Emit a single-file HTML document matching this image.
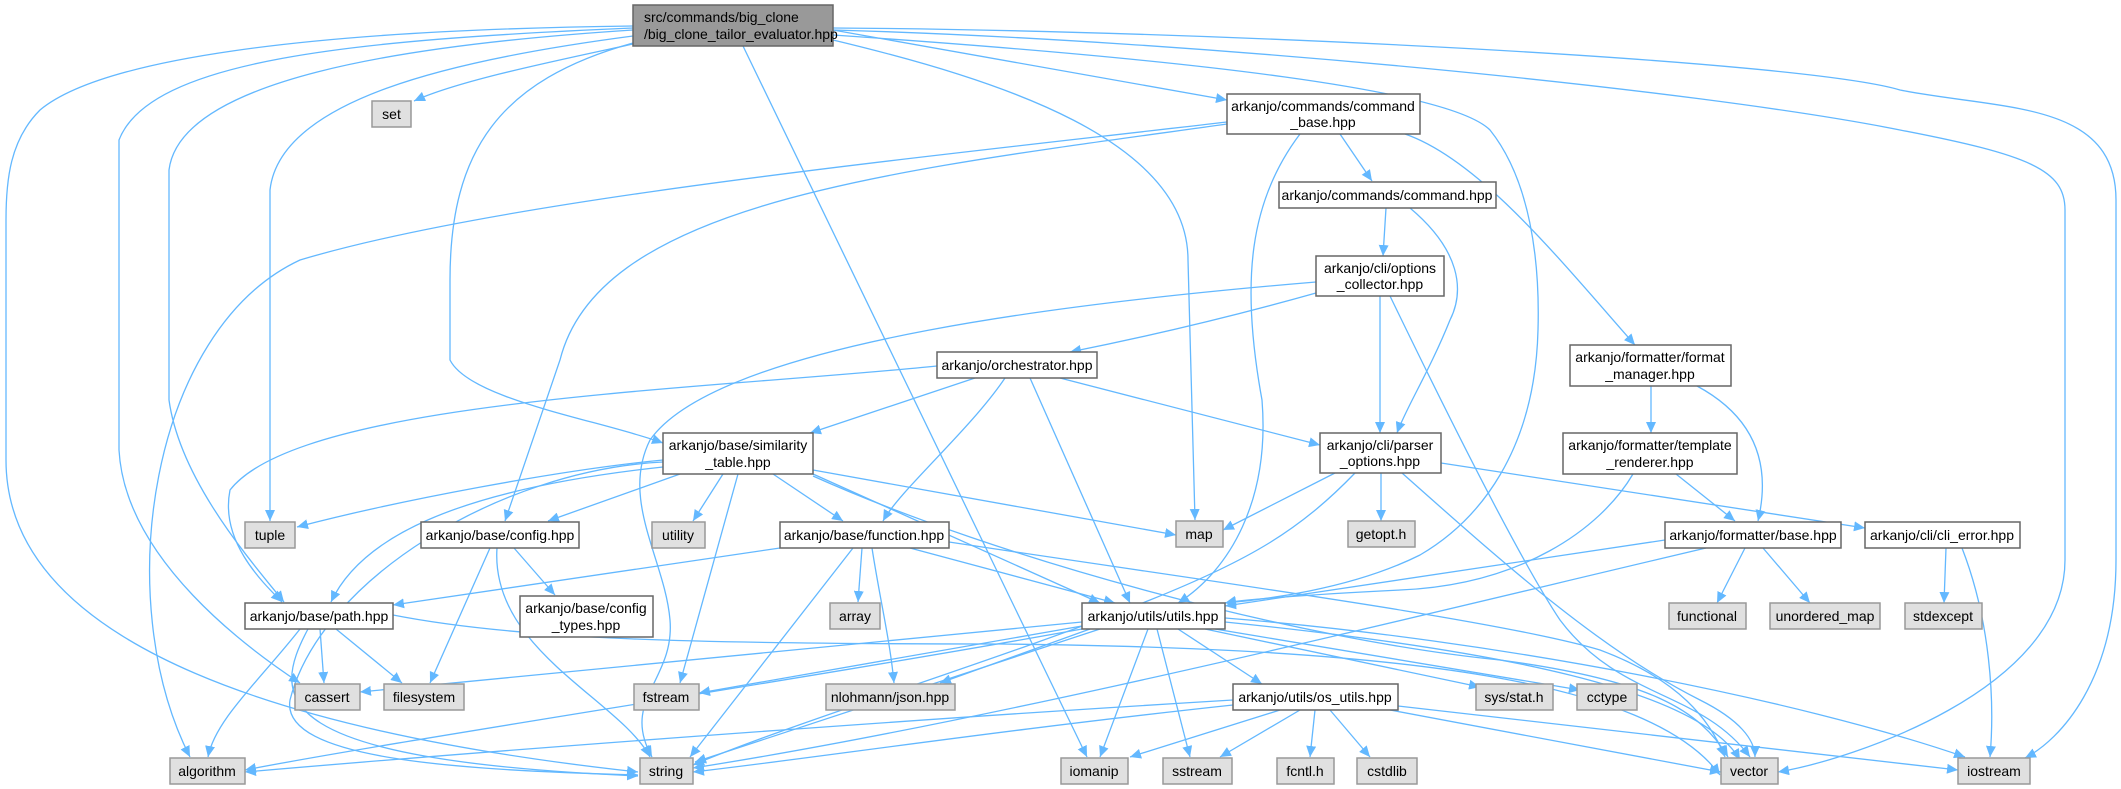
<!DOCTYPE html>
<html><head><meta charset="utf-8"><style>
html,body{margin:0;padding:0;background:#fff}
svg{display:block}
text{font-family:"Liberation Sans",sans-serif;font-size:14px;fill:#000}
.e{fill:none;stroke:#63b8ff;stroke-width:1.3}
.w{fill:#fff;stroke:#666;stroke-width:1.5}
.g{fill:#e0e0e0;stroke:#999;stroke-width:1.5}
</style></head><body>
<svg width="2121" height="789" viewBox="0 0 2121 789" xmlns="http://www.w3.org/2000/svg">
<defs><marker id="a" markerUnits="userSpaceOnUse" markerWidth="12" markerHeight="10" refX="11" refY="5" orient="auto"><path d="M0,0 L11,5 L0,10 z" fill="#63b8ff"/></marker></defs>
<g class="e" marker-end="url(#a)">
<!-- main -->
<path d="M633,44 C560,60 460,80 414,101"/>
<path d="M633,26 C300,30 100,60 40,110 C10,140 6,180 6,220 L6,460 C6,650 300,735 638,772"/>
<path d="M633,28 C350,40 150,60 119,140 L119,450 C125,560 250,650 300,683"/>
<path d="M633,30 C400,45 180,80 169,170 L169,400 C180,480 250,560 284,602"/>
<path d="M633,36 C450,60 280,100 270,190 L270,521"/>
<path d="M633,43 C500,80 450,150 450,280 L450,360 C470,400 600,420 663,443"/>
<path d="M743,46 L1087,757"/>
<path d="M833,40 C1000,80 1188,140 1188,260 L1195,520"/>
<path d="M833,30 L1227,100"/>
<path d="M833,35 C1200,60 1450,90 1490,130 C1530,180 1540,260 1538,330 C1535,450 1480,520 1420,555 C1350,590 1260,600 1225,603"/>
<path d="M833,30 C1200,40 1700,90 1900,130 C2030,155 2065,170 2065,210 L2065,560 C2065,690 1850,760 1778,772"/>
<path d="M833,28 C1200,30 1800,60 1900,90 C2000,110 2116,100 2116,200 L2116,560 C2116,680 2060,740 2025,758"/>
<!-- command_base -->
<path d="M1227,122 C900,160 500,200 300,260 C150,330 110,600 190,757"/>
<path d="M1227,124 C900,170 600,200 560,360 L505,521"/>
<path d="M1300,134 C1250,200 1240,280 1262,400 C1270,500 1230,570 1178,603"/>
<path d="M1340,134 L1372,181"/>
<path d="M1405,134 C1480,160 1560,260 1635,345"/>
<!-- command.hpp -->
<path d="M1386,208 L1383,256"/>
<path d="M1410,208 C1460,250 1465,290 1450,320 C1430,370 1405,410 1397,433"/>
<!-- options_collector -->
<path d="M1316,282 C1100,300 720,340 650,440 C620,500 665,560 670,620 C675,680 620,700 652,757"/>
<path d="M1316,293 C1220,320 1130,340 1070,352"/>
<path d="M1380,296 L1380,433"/>
<path d="M1390,296 C1450,420 1520,560 1560,620 C1620,700 1700,690 1750,757"/>
<!-- orchestrator -->
<path d="M937,366 C700,390 300,400 230,490 C220,540 260,580 282,602"/>
<path d="M975,378 L810,433"/>
<path d="M1005,378 C970,430 900,490 883,521"/>
<path d="M1030,378 L1130,603"/>
<path d="M1060,378 L1320,445"/>
<!-- similarity table -->
<path d="M663,460 C560,470 400,500 297,527"/>
<path d="M663,462 C500,470 320,580 290,700 C280,760 460,770 638,775"/>
<path d="M663,467 C450,490 360,540 331,602"/>
<path d="M680,474 L548,521"/>
<path d="M723,474 L693,521"/>
<path d="M773,474 L843,521"/>
<path d="M738,474 L680,683"/>
<path d="M813,470 L1176,535"/>
<path d="M813,474 L1100,603"/>
<path d="M813,476 C1000,560 1300,640 1500,660 C1650,680 1700,710 1728,757"/>
<!-- config -->
<path d="M490,548 L430,683"/>
<path d="M497,548 C490,650 620,700 650,757"/>
<path d="M514,548 L555,595"/>
<!-- function -->
<path d="M780,548 L393,605"/>
<path d="M862,548 L858,602"/>
<path d="M872,548 C880,600 890,640 894,683"/>
<path d="M853,548 L690,757"/>
<path d="M910,548 L1115,603"/>
<path d="M949,542 C1200,580 1500,620 1600,650 C1680,680 1710,720 1725,757"/>
<!-- path -->
<path d="M320,629 L324,683"/>
<path d="M336,629 L402,683"/>
<path d="M300,629 C260,680 215,720 208,757"/>
<path d="M308,629 C270,700 270,760 638,776"/>
<path d="M393,615 C520,640 700,644 1000,644 C1400,648 1650,680 1720,775"/>
<!-- parser options -->
<path d="M1335,473 L1223,530"/>
<path d="M1381,473 L1381,521"/>
<path d="M1355,473 C1300,530 1250,560 1150,600 C1000,660 800,720 693,765"/>
<path d="M1402,473 C1500,560 1600,650 1700,700 C1740,720 1755,740 1755,757"/>
<path d="M1441,463 L1865,528"/>
<!-- formatter -->
<path d="M1651,386 L1651,433"/>
<path d="M1697,386 C1760,420 1770,470 1758,521"/>
<path d="M1676,474 L1735,521"/>
<path d="M1633,474 C1600,530 1520,585 1400,590 C1300,595 1240,600 1225,603"/>
<path d="M1665,540 L1225,606"/>
<path d="M1706,548 C1400,620 1000,720 693,768"/>
<path d="M1745,548 L1717,603"/>
<path d="M1763,548 L1810,603"/>
<path d="M1946,548 L1944,603"/>
<path d="M1962,548 C1990,620 1995,700 1990,757"/>
<!-- utils -->
<path d="M1082,622 L360,692"/>
<path d="M1082,626 L699,693"/>
<path d="M1090,629 L940,683"/>
<path d="M1100,629 L695,762"/>
<path d="M1082,629 C800,680 400,740 245,770"/>
<path d="M1148,629 L1100,757"/>
<path d="M1157,629 L1190,757"/>
<path d="M1178,629 L1262,684"/>
<path d="M1205,629 L1480,687"/>
<path d="M1215,629 L1580,690"/>
<path d="M1225,622 C1500,650 1700,690 1740,760"/>
<path d="M1225,618 C1500,640 1800,700 1965,757"/>
<!-- os_utils -->
<path d="M1233,700 C900,720 500,750 245,772"/>
<path d="M1233,705 C1000,730 800,760 693,772"/>
<path d="M1280,710 L1130,757"/>
<path d="M1300,710 L1220,757"/>
<path d="M1315,710 L1310,757"/>
<path d="M1330,710 L1370,757"/>
<path d="M1390,710 L1721,772"/>
<path d="M1398,706 L1958,770"/>
</g>
<g>
<rect class="w" x="633" y="5" width="200" height="41" style="fill:#999"/>
<text x="644" y="22">src/commands/big_clone</text><text x="644" y="39">/big_clone_tailor_evaluator.hpp</text>
<rect class="g" x="372" y="101" width="39" height="26"/><text x="391.5" y="119" text-anchor="middle">set</text>
</g>
<g text-anchor="middle">
<rect class="w" x="1227" y="94" width="193" height="40"/><text x="1323" y="111">arkanjo/commands/command</text><text x="1323" y="127">_base.hpp</text>
<rect class="w" x="1279" y="182" width="217" height="26"/><text x="1387" y="200">arkanjo/commands/command.hpp</text>
<rect class="w" x="1316" y="256" width="128" height="40"/><text x="1380" y="273">arkanjo/cli/options</text><text x="1380" y="289">_collector.hpp</text>
<rect class="w" x="937" y="352" width="160" height="26"/><text x="1017" y="370">arkanjo/orchestrator.hpp</text>
<rect class="w" x="1570" y="345" width="161" height="41"/><text x="1650" y="362">arkanjo/formatter/format</text><text x="1650" y="379">_manager.hpp</text>
<rect class="w" x="663" y="433" width="150" height="41"/><text x="738" y="450">arkanjo/base/similarity</text><text x="738" y="467">_table.hpp</text>
<rect class="w" x="1320" y="433" width="121" height="40"/><text x="1380" y="450">arkanjo/cli/parser</text><text x="1380" y="466">_options.hpp</text>
<rect class="w" x="1563" y="433" width="174" height="41"/><text x="1650" y="450">arkanjo/formatter/template</text><text x="1650" y="467">_renderer.hpp</text>
<rect class="g" x="245" y="522" width="50" height="26"/><text x="270" y="540">tuple</text>
<rect class="w" x="421" y="522" width="158" height="26"/><text x="500" y="540">arkanjo/base/config.hpp</text>
<rect class="g" x="652" y="522" width="53" height="26"/><text x="678" y="540">utility</text>
<rect class="w" x="780" y="522" width="169" height="26"/><text x="864" y="540">arkanjo/base/function.hpp</text>
<rect class="g" x="1176" y="521" width="47" height="26"/><text x="1199" y="539">map</text>
<rect class="g" x="1348" y="521" width="67" height="26"/><text x="1381" y="539">getopt.h</text>
<rect class="w" x="1665" y="522" width="176" height="26"/><text x="1753" y="540">arkanjo/formatter/base.hpp</text>
<rect class="w" x="1865" y="522" width="155" height="26"/><text x="1942" y="540">arkanjo/cli/cli_error.hpp</text>
<rect class="w" x="245" y="603" width="148" height="26"/><text x="319" y="621">arkanjo/base/path.hpp</text>
<rect class="w" x="520" y="596" width="133" height="41"/><text x="586" y="613">arkanjo/base/config</text><text x="586" y="630">_types.hpp</text>
<rect class="g" x="830" y="603" width="50" height="26"/><text x="855" y="621">array</text>
<rect class="w" x="1082" y="603" width="143" height="26"/><text x="1153" y="621">arkanjo/utils/utils.hpp</text>
<rect class="g" x="1669" y="603" width="77" height="26"/><text x="1707" y="621">functional</text>
<rect class="g" x="1770" y="603" width="110" height="26"/><text x="1825" y="621">unordered_map</text>
<rect class="g" x="1905" y="603" width="77" height="26"/><text x="1943" y="621">stdexcept</text>
<rect class="g" x="295" y="684" width="65" height="26"/><text x="327" y="702">cassert</text>
<rect class="g" x="384" y="684" width="80" height="26"/><text x="424" y="702">filesystem</text>
<rect class="g" x="634" y="684" width="65" height="26"/><text x="666" y="702">fstream</text>
<rect class="g" x="826" y="684" width="129" height="26"/><text x="890" y="702">nlohmann/json.hpp</text>
<rect class="w" x="1233" y="684" width="165" height="26"/><text x="1315" y="702">arkanjo/utils/os_utils.hpp</text>
<rect class="g" x="1476" y="684" width="77" height="26"/><text x="1514" y="702">sys/stat.h</text>
<rect class="g" x="1577" y="684" width="60" height="26"/><text x="1607" y="702">cctype</text>
<rect class="g" x="170" y="758" width="75" height="26"/><text x="207" y="776">algorithm</text>
<rect class="g" x="640" y="758" width="53" height="26"/><text x="666" y="776">string</text>
<rect class="g" x="1061" y="758" width="67" height="26"/><text x="1094" y="776">iomanip</text>
<rect class="g" x="1163" y="758" width="69" height="26"/><text x="1197" y="776">sstream</text>
<rect class="g" x="1277" y="758" width="57" height="26"/><text x="1305" y="776">fcntl.h</text>
<rect class="g" x="1357" y="758" width="60" height="26"/><text x="1387" y="776">cstdlib</text>
<rect class="g" x="1721" y="758" width="57" height="26"/><text x="1749" y="776">vector</text>
<rect class="g" x="1958" y="758" width="72" height="26"/><text x="1994" y="776">iostream</text>
</g>
</svg>
</body></html>
